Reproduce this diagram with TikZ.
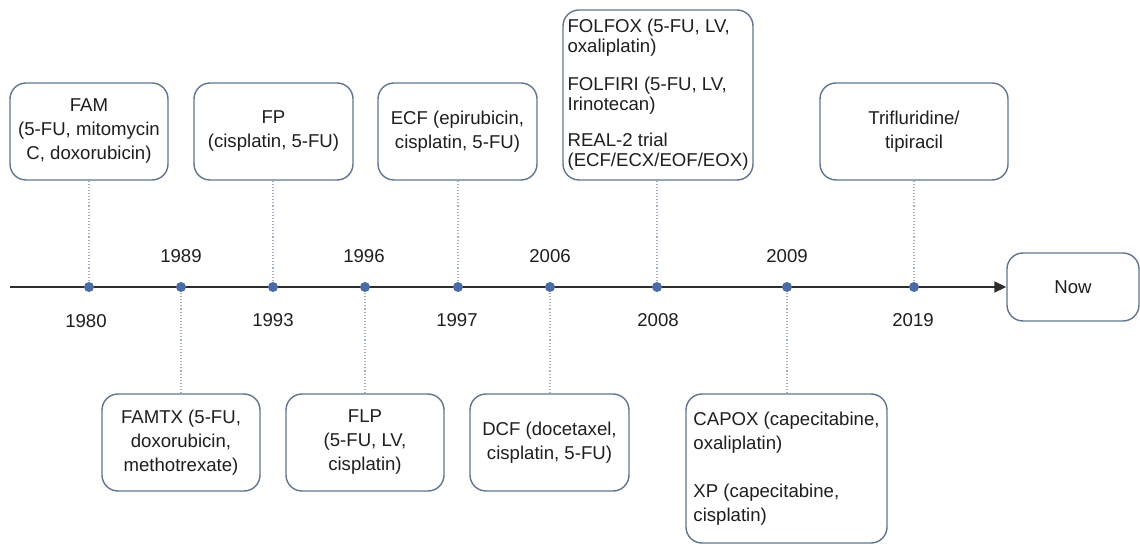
\documentclass[tikz,border=0pt]{standalone}
\usepackage{fontspec}
\setmainfont{Liberation Sans}
\usetikzlibrary{arrows.meta}
\definecolor{boxc}{HTML}{61748C}
\definecolor{dotc}{HTML}{4A6BA6}
\definecolor{linec}{HTML}{2E2E2E}
\definecolor{connc}{HTML}{9DB0C4}
\definecolor{txt}{HTML}{1E1E1E}
\tikzset{
  tbox/.style={draw=boxc, line width=0.7pt, rounded corners=8pt, text=txt,
    font=\fontsize{9.3}{12}\selectfont, align=center, inner sep=0pt},
  tdot/.style={circle, fill=dotc, inner sep=0pt, minimum size=5pt},
  conn/.style={draw=connc, line width=0.55pt, densely dotted},
  year/.style={text=txt, font=\fontsize{9.3}{11}\selectfont, inner sep=0pt},
  tline/.style={draw=linec, line width=0.9pt, -{Triangle[length=6pt,width=5.5pt]}}
}
\begin{document}
\begin{tikzpicture}[x=0.5pt,y=-0.5pt]
\useasboundingbox (0,0) rectangle (1140,544);
% top boxes
\node[tbox, minimum width=79pt, minimum height=48.5pt] (fam) at (89,131.5)
  {FAM\\(5-FU, mitomycin\\C, doxorubicin)};
\node[tbox, minimum width=79.5pt, minimum height=48.5pt] (fp) at (273.5,131.5)
  {FP\\(cisplatin, 5-FU)};
\node[tbox, minimum width=79.5pt, minimum height=48.5pt] (ecf) at (457.5,131.5)
  {ECF (epirubicin,\\cisplatin, 5-FU)};
\node[tbox, minimum width=95pt, minimum height=85pt, align=left,
  font=\fontsize{9.3}{10}\selectfont] (folfox) at (658,95)
  {FOLFOX (5-FU, LV,\\oxaliplatin)\\[9pt]FOLFIRI (5-FU, LV,\\Irinotecan)\\[8pt]REAL-2 trial\\(ECF/ECX/EOF/EOX)};
\node[tbox, minimum width=94pt, minimum height=48.5pt] (tri) at (914,131.5)
  {Trifluridine/\\tipiracil};
% bottom boxes
\node[tbox, minimum width=79pt, minimum height=48.5pt] (famtx) at (181,442.5)
  {FAMTX (5-FU,\\doxorubicin,\\methotrexate)};
\node[tbox, minimum width=79pt, minimum height=48.5pt] (flp) at (365,442.5)
  {FLP\\(5-FU, LV,\\cisplatin)};
\node[tbox, minimum width=79.5pt, minimum height=48.5pt] (dcf) at (549.5,442.5)
  {DCF (docetaxel,\\cisplatin, 5-FU)};
\node[tbox, minimum width=100.5pt, minimum height=74.5pt, align=left] (capox) at (786.5,468.5)
  {CAPOX (capecitabine,\\oxaliplatin)\\[12pt]XP (capecitabine,\\cisplatin)};
% now box
\node[tbox, minimum width=66pt, minimum height=34pt] (now) at (1073,287) {Now};
% timeline
\coordinate (start) at (10,287);
\draw[tline] (start) -- (now.west);
% dots
\node[tdot] (d1) at (89,287) {};
\node[tdot] (d2) at (181,287) {};
\node[tdot] (d3) at (273,287) {};
\node[tdot] (d4) at (365,287) {};
\node[tdot] (d5) at (458,287) {};
\node[tdot] (d6) at (550,287) {};
\node[tdot] (d7) at (657,287) {};
\node[tdot] (d8) at (787,287) {};
\node[tdot] (d9) at (914,287) {};
% connectors
\draw[conn] (fam.south) -- (d1);
\draw[conn] (famtx.north) -- (d2);
\draw[conn] (fp.south -| d3) -- (d3);
\draw[conn] (flp.north) -- (d4);
\draw[conn] (ecf.south -| d5) -- (d5);
\draw[conn] (dcf.north -| d6) -- (d6);
\draw[conn] (folfox.south -| d7) -- (d7);
\draw[conn] (capox.north -| d8) -- (d8);
\draw[conn] (tri.south) -- (d9);
% years
\node[year] (y1980) at (86,321) {1980};
\node[year] (y1989) at (181,256) {1989};
\node[year] (y1993) at (273,320) {1993};
\node[year] (y1996) at (364,256) {1996};
\node[year] (y1997) at (457,320) {1997};
\node[year] (y2006) at (550,256) {2006};
\node[year] (y2008) at (658,320) {2008};
\node[year] (y2009) at (787,256) {2009};
\node[year] (y2019) at (913,320) {2019};
\end{tikzpicture}
\end{document}
